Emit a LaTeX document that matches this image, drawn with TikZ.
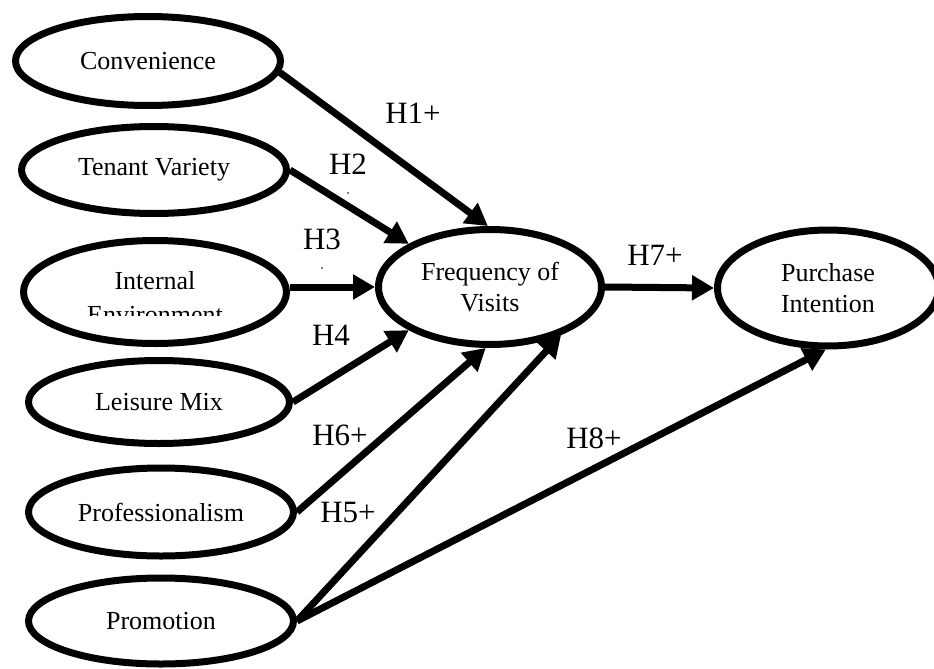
\documentclass[tikz,border=0pt]{standalone}
\usepackage{fontspec}
\setmainfont{Liberation Serif}
\usetikzlibrary{arrows.meta,shapes.geometric}
\begin{document}
\begin{tikzpicture}[x=1pt,y=-1pt,
  construct/.style={ellipse, draw, line width=7pt, inner sep=0pt, align=center,
    font=\fontsize{26}{31}\selectfont},
  link/.style={line width=7pt, -{Triangle[length=22pt,width=24pt]}},
  hyp/.style={font=\fontsize{31}{36}\selectfont, inner sep=0pt}]
\useasboundingbox (0,0) rectangle (934,669);

% left constructs
\node[construct, minimum width=265pt, minimum height=89pt] (conv) at (148,61) {Convenience};
\node[construct, minimum width=265pt, minimum height=87pt] (tenant) at (154,170) {Tenant Variety};
\node[construct, minimum width=263pt, minimum height=103pt] (internal) at (155,292) {};
\begin{scope}
  \clip (40,240) rectangle (270,315);
  \node[font=\fontsize{26}{34}\selectfont, align=center, inner sep=0pt] (internaltext) at (155,298) {Internal\\Environment};
\end{scope}
\node[construct, minimum width=261pt, minimum height=83pt] (leisure) at (159,402) {Leisure Mix};
\node[construct, minimum width=265pt, minimum height=88pt] (prof) at (161,512) {Professionalism};
\node[construct, minimum width=265pt, minimum height=86pt] (promo) at (161,621) {Promotion};

% central and outcome
\node[construct, minimum width=223pt, minimum height=115pt] (freq) at (490,287) {Frequency of\\Visits};
\node[construct, minimum width=221pt, minimum height=116pt] (purch) at (828,288) {Purchase\\Intention};

% connectors
\draw[link] (conv.-5) -- (freq.92);
\draw[link] (tenant.east) -- (freq.152);
\draw[link] (internal.east |- freq.west) -- (freq.west);
\draw[link] (leisure.east) -- (freq.208);
\draw[link] (prof.east) -- (freq.266);
\draw[link] (promo.east) -- (freq.326);
\draw[link] (promo.east) -- (purch.268);
\draw[link] (freq.east) -- (purch.west);

% hypothesis labels
\node[hyp] (h1) at (413,113) {H1+};
\node[hyp] (h2) at (348,164) {H2};
\node[hyp] (h3) at (322,239) {H3};
\node[hyp] (h4) at (331,335) {H4};
\node[hyp] (h6) at (340,435) {H6+};
\node[hyp] (h5) at (348,512) {H5+};
\node[hyp] (h8) at (594,438) {H8+};
\node[hyp] (h7) at (655,255) {H7+};

% tiny specks
\fill (348,193) circle (0.8);
\fill (322,268) circle (0.8);
\end{tikzpicture}
\end{document}
